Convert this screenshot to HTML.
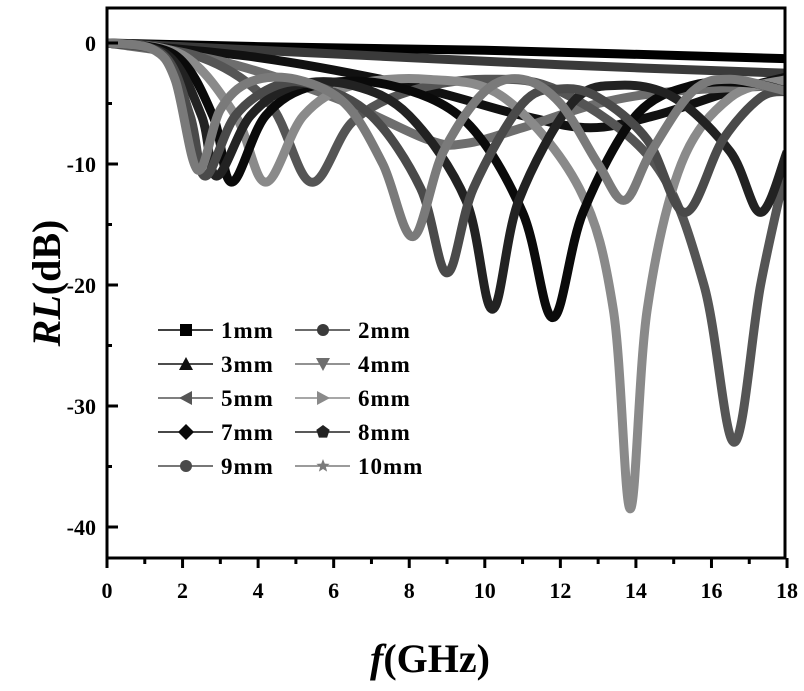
<!DOCTYPE html>
<html><head><meta charset="utf-8"><style>
body{margin:0;background:#fff}
svg text{font-family:"Liberation Serif",serif;font-weight:bold}
</style></head><body>
<svg id="s" width="804" height="686" xmlns="http://www.w3.org/2000/svg">
<defs><clipPath id="c"><rect x="107" y="8" width="678" height="550"/></clipPath></defs>
<g id="curves" clip-path="url(#c)"></g>
<rect x="107" y="8" width="678" height="550" fill="none" stroke="#000" stroke-width="3"/>
<g id="ticks" stroke="#000" stroke-width="3"></g>
<g font-size="22" text-anchor="end">
<text x="96" y="51">0</text><text x="96" y="172">-10</text><text x="96" y="293">-20</text><text x="96" y="414">-30</text><text x="96" y="535">-40</text>
</g>
<g id="xl" font-size="22" text-anchor="middle"></g>
<text x="430" y="672" font-size="40" text-anchor="middle"><tspan font-style="italic">f</tspan>(GHz)</text>
<text transform="translate(60,283) rotate(-90)" font-size="40" text-anchor="middle"><tspan font-style="italic">RL</tspan>(dB)</text>
<g id="leg" font-size="23" letter-spacing="1"></g>
</svg>
<script>
const X=f=>107+f*37.78, Y=r=>43-r*12.1;
const ns="http://www.w3.org/2000/svg";
function el(t,a,p){const e=document.createElementNS(ns,t);for(const k in a)e.setAttribute(k,a[k]);p.appendChild(e);return e;}
const tk=document.getElementById('ticks'),xl=document.getElementById('xl');
for(let f=0;f<=18;f++){const x=X(f);el('line',{x1:x,x2:x,y1:558,y2:f%2?564:568},tk);
 if(f%2==0){const t=el('text',{x:x,y:598},xl);t.textContent=f;}}
for(let r=0;r>=-45;r-=5){const y=Y(r);if(y>558)break;el('line',{x1:107,x2:r%10?112:118,y1:y,y2:y},tk);}
const C=[
["1mm","#000",[[0,0],[4,-0.3],[10,-0.6],[18,-1.3]],"sq"],
["2mm","#3a3a3a",[[0,0],[6,-0.9],[12,-1.8],[18,-2.5]],"ci"],
["3mm","#111",[[0,0],[4,-1.2],[8,-3.5],[11,-6],[12.8,-7],[14.5,-6],[16.5,-4],[18,-2.8]],"tu"],
["4mm","#6e6e6e",[[0,0],[3,-1.5],[6,-4.5],[8.5,-8],[9.5,-8.3],[11,-7],[13,-5],[15,-4],[18,-3.5]],"td"],
["5mm","#555",[[0,0],[2.5,-1.2],[4.3,-5],[5.4,-11.5],[6.5,-6.5],[8,-4],[10,-3],[12,-4],[14.5,-10],[15.8,-20],[16.6,-33],[17.3,-20],[18,-10]],"tl"],
["6mm","#8a8a8a",[[0,0],[2,-1],[3.4,-6],[4.2,-11.5],[5.2,-6],[6.5,-3.5],[8.5,-3],[10.5,-4.5],[12.5,-12],[13.4,-22],[13.85,-38.5],[14.3,-22],[15.2,-10],[16.5,-4.5],[18,-3]],"tr"],
["7mm","#0a0a0a",[[0,0],[1.8,-1],[2.8,-6],[3.3,-11.5],[4.2,-6],[5.5,-3.5],[7.5,-3.5],[9.5,-6.5],[11,-14],[11.8,-22.7],[12.6,-14],[14,-6],[15.5,-3.5],[17,-3.3],[18,-4]],"di"],
["8mm","#222",[[0,0],[1.6,-1],[2.5,-6],[2.9,-11],[3.8,-6],[5,-3.5],[6.5,-3.5],[8,-6],[9.5,-13],[10.2,-22],[10.9,-13],[12.3,-5],[13.5,-3.5],[15,-4.5],[16.5,-9],[17.3,-14],[18,-9]],"pe"],
["9mm","#4a4a4a",[[0,0],[1.5,-1],[2.2,-6],[2.6,-11],[3.4,-6],[4.5,-3.5],[5.5,-3.5],[7,-6],[8.3,-12],[9.0,-19],[9.7,-12],[11,-5],[12,-3.8],[13,-4.5],[14.3,-8],[15.3,-14],[16.3,-8],[17.3,-4.5],[18,-4]],"ci"],
["10mm","#7a7a7a",[[0,0],[1.2,-0.5],[1.8,-3],[2.4,-10.5],[3.0,-5.5],[3.8,-3.2],[5,-3],[6.3,-5],[7.3,-10],[8.1,-16],[8.9,-9],[10,-4],[11,-3],[12,-5],[13,-10],[13.7,-13],[14.4,-9],[15.5,-4],[16.5,-3],[18,-4]],"st"]
];
const g=document.getElementById('curves');
function path(p){p=p.map(q=>[X(q[0]),Y(q[1])]);let d="M"+p[0];for(let i=0;i<p.length-1;i++){const a=p[Math.max(i-1,0)],b=p[i],c=p[i+1],e=p[Math.min(i+2,p.length-1)];
d+=" C"+(b[0]+(c[0]-a[0])/6)+","+(b[1]+(c[1]-a[1])/6)+" "+(c[0]-(e[0]-b[0])/6)+","+(c[1]-(e[1]-b[1])/6)+" "+c;}return d;}
C.forEach(c=>el('path',{d:path(c[2]),fill:"none",stroke:c[1],"stroke-width":9,"stroke-linejoin":"round"},g));
function mk(t,x,y,col,p){const s=6;let pts;
 if(t=="sq")return el('rect',{x:x-s,y:y-s,width:2*s,height:2*s,fill:col},p);
 if(t=="ci")return el('circle',{cx:x,cy:y,r:s,fill:col},p);
 if(t=="tu")pts=[[x,y-s-1],[x+s+1,y+s],[x-s-1,y+s]];
 if(t=="td")pts=[[x,y+s+1],[x+s+1,y-s],[x-s-1,y-s]];
 if(t=="tl")pts=[[x-s-1,y],[x+s,y-s-1],[x+s,y+s+1]];
 if(t=="tr")pts=[[x+s+1,y],[x-s,y-s-1],[x-s,y+s+1]];
 if(t=="di")pts=[[x,y-s-2],[x+s+2,y],[x,y+s+2],[x-s-2,y]];
 if(t=="pe"){pts=[];for(let k=0;k<5;k++){const a=-Math.PI/2+k*2*Math.PI/5;pts.push([x+7*Math.cos(a),y+7*Math.sin(a)]);}}
 if(t=="st"){pts=[];for(let k=0;k<10;k++){const a=-Math.PI/2+k*Math.PI/5,r=k%2?3:7;pts.push([x+r*Math.cos(a),y+r*Math.sin(a)]);}}
 return el('polygon',{points:pts.map(q=>q.join(',')).join(' '),fill:col},p);}
const lg=document.getElementById('leg');
C.forEach((c,i)=>{const col=i%2,row=Math.floor(i/2);const x0=col?295:158,y=330+row*34;
el('line',{x1:x0,x2:x0+55,y1:y,y2:y,stroke:c[1],"stroke-width":1.5},lg);
mk(c[3],x0+28,y,c[1],lg);
const t=el('text',{x:x0+63,y:y+8},lg);t.textContent=c[0];});
</script>
</body></html>
